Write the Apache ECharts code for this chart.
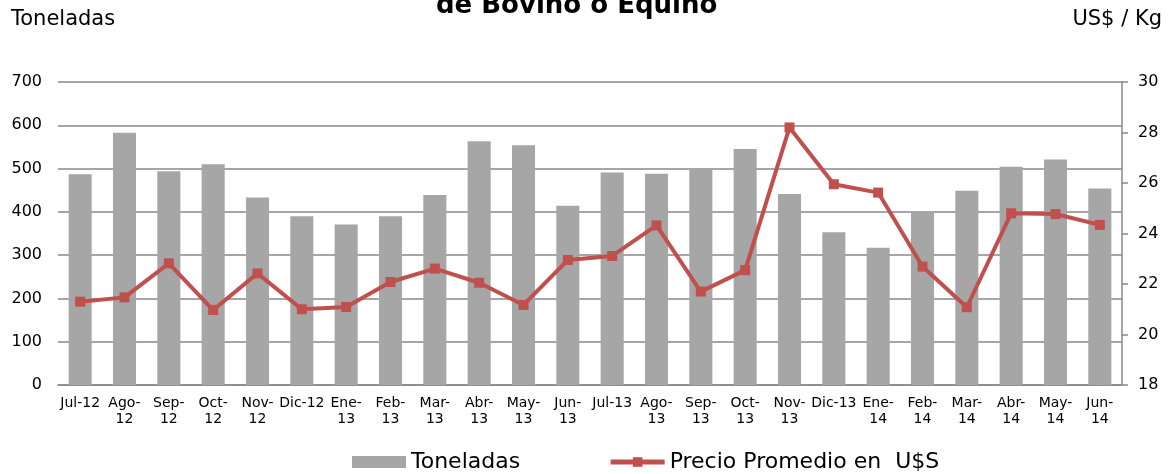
<!DOCTYPE html>
<html>
<head>
<meta charset="utf-8">
<script src="https://cdn.jsdelivr.net/npm/echarts@6/dist/echarts.min.js"></script>
<style>
  html, body { margin: 0; padding: 0; background: #fff; }
  #chart { width: 1171px; height: 474px; }
</style>
</head>
<body>
<div id="chart"></div>
<script>
const months = ['Jul-12', 'Ago-12', 'Sep-12', 'Oct-12', 'Nov-12', 'Dic-12', 'Ene-13', 'Feb-13',
  'Mar-13', 'Abr-13', 'May-13', 'Jun-13', 'Jul-13', 'Ago-13', 'Sep-13', 'Oct-13', 'Nov-13',
  'Dic-13', 'Ene-14', 'Feb-14', 'Mar-14', 'Abr-14', 'May-14', 'Jun-14'];
const toneladas = [487, 583, 494, 510, 433, 390, 371, 390, 439, 563, 554, 414,
  491, 488, 498, 545, 441, 353, 317, 398, 449, 504, 521, 454];
const precio = [21.3, 21.47, 22.82, 20.97, 22.42, 21.0, 21.09, 22.08, 22.61, 22.05, 21.17, 22.95,
  23.11, 24.32, 21.7, 22.55, 28.2, 25.95, 25.62, 22.69, 21.08, 24.8, 24.77, 24.34];
// labels that Excel keeps on one line
const oneLine = ['Jul-12', 'Dic-12', 'Jul-13', 'Dic-13'];

const chart = echarts.init(document.getElementById('chart'));
chart.setOption({
  animation: false,
  textStyle: { fontFamily: 'DejaVu Sans' },
  title: [
    {
      text: 'de Bovino o Equino',
      left: 431,
      top: -12,
      textStyle: { fontSize: 26, fontWeight: 'bold', color: '#000' }
    },
    {
      text: 'Toneladas',
      left: 6,
      top: 4,
      textStyle: { fontSize: 21, fontWeight: 'normal', color: '#000' }
    },
    {
      text: 'US$ / Kg',
      right: 4,
      top: 4,
      textStyle: { fontSize: 21, fontWeight: 'normal', color: '#000' }
    }
  ],
  legend: {
    top: 446,
    left: 347,
    itemGap: 88,
    itemWidth: 54,
    itemHeight: 12,
    textStyle: { fontSize: 22, color: '#000' },
    data: [
      { name: 'Toneladas', icon: 'rect' },
      { name: 'Precio Promedio en  U$S', lineStyle: { width: 5 } }
    ]
  },
  grid: { left: 58, right: 49, top: 82, bottom: 89 },
  xAxis: {
    type: 'category',
    data: months,
    axisLine: { lineStyle: { color: '#888', width: 1.5 } },
    axisTick: { show: false },
    axisLabel: {
      interval: 0,
      color: '#000',
      fontSize: 14,
      lineHeight: 16,
      margin: 10,
      formatter: v => oneLine.includes(v) ? v : v.replace('-', '-\n')
    }
  },
  yAxis: [
    {
      type: 'value',
      min: 0,
      max: 700,
      interval: 100,
      axisLine: { show: false },
      axisTick: { show: false },
      axisLabel: { color: '#000', fontSize: 16, margin: 16 },
      splitLine: { lineStyle: { color: '#888', width: 1.5 } }
    },
    {
      type: 'value',
      min: 18,
      max: 30,
      interval: 2,
      position: 'right',
      axisLine: { show: true, lineStyle: { color: '#888', width: 1.5 } },
      axisTick: { show: true, length: 6, lineStyle: { color: '#888', width: 1.5 } },
      axisLabel: { color: '#000', fontSize: 16, margin: 16 },
      splitLine: { show: false }
    }
  ],
  series: [
    {
      name: 'Toneladas',
      type: 'bar',
      data: toneladas,
      barWidth: '52%',
      itemStyle: { color: '#a6a6a6' }
    },
    {
      name: 'Precio Promedio en  U$S',
      type: 'line',
      yAxisIndex: 1,
      data: precio,
      symbol: 'rect',
      symbolSize: 10,
      lineStyle: { color: '#c0504d', width: 4 },
      itemStyle: { color: '#c0504d' }
    }
  ]
});
</script>
</body>
</html>
